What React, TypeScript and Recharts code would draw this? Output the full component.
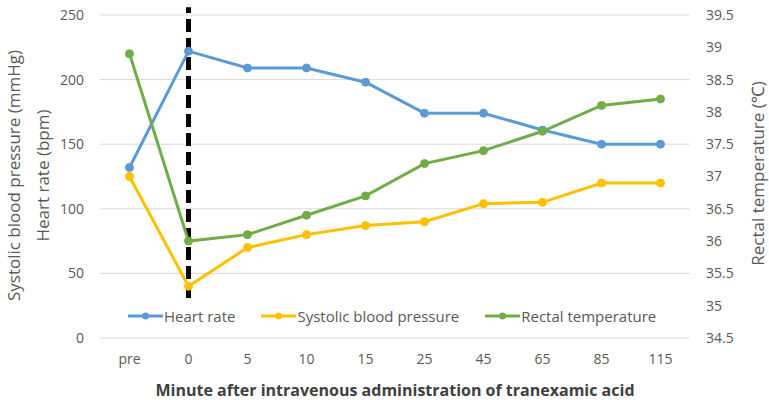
import React from 'react';
import { ComposedChart, Line, XAxis, YAxis, CartesianGrid, Legend, ReferenceLine } from 'recharts';

const categories = ['pre', '0', '5', '10', '15', '25', '45', '65', '85', '115'];
const heartRate = [132, 222, 209, 209, 198, 174, 174, 161, 150, 150];
const systolicBP = [125, 40, 70, 80, 87, 90, 104, 105, 120, 120];
const rectalTemp = [38.9, 36.0, 36.1, 36.4, 36.7, 37.2, 37.4, 37.7, 38.1, 38.2];
const leftTicks = [0, 50, 100, 150, 200, 250];
const rightTicks = [34.5, 35, 35.5, 36, 36.5, 37, 37.5, 38, 38.5, 39, 39.5];
const seriesNames = ['Heart rate', 'Systolic blood pressure', 'Rectal temperature'];

const data = categories.map((c, i) => ({
  minute: c,
  hr: heartRate[i],
  sbp: systolicBP[i],
  temp: rectalTemp[i],
}));

const FONT = '"Open Sans", "Noto Sans", sans-serif';
const TXT = '#595959';

const LeftLabel = (props: any) => {
  const vb = props.viewBox || {};
  const cy = vb.y + vb.height / 2 - 1;
  return (
    <g>
      <text x={13} y={cy} transform={`rotate(-90 13 ${cy})`} textAnchor="middle" dominantBaseline="central"
        fontFamily={FONT} fontSize={17} fill={TXT}>Systolic blood pressure (mmHg)</text>
      <text x={42} y={cy} transform={`rotate(-90 42 ${cy})`} textAnchor="middle" dominantBaseline="central"
        fontFamily={FONT} fontSize={17} fill={TXT}>Heart rate (bpm)</text>
    </g>
  );
};

const RightLabel = (props: any) => {
  const vb = props.viewBox || {};
  const cy = vb.y + vb.height / 2 - 3;
  const cx = 757;
  return (
    <text x={cx} y={cy} transform={`rotate(-90 ${cx} ${cy})`} textAnchor="middle" dominantBaseline="central"
      fontFamily={FONT} fontSize={17} fill={TXT}>Rectal temperature (℃)</text>
  );
};

const LegendContent = (props: any) => {
  const payload = [...(props.payload || [])].sort(
    (a: any, b: any) => seriesNames.indexOf(a.value) - seriesNames.indexOf(b.value)
  );
  return (
    <div style={{ display: 'flex', alignItems: 'center', fontFamily: FONT, fontSize: 15, color: TXT, whiteSpace: 'nowrap' }}>
      {payload.map((p: any, i: number) => (
        <div key={i} style={{ display: 'flex', alignItems: 'center', marginRight: 26 }}>
          <svg width={35} height={10} style={{ marginRight: 1 }}>
            <line x1={0} y1={5} x2={35} y2={5} stroke={p.color} strokeWidth={3} />
            <circle cx={17.5} cy={5} r={3.5} fill={p.color} />
          </svg>
          <span>{p.value}</span>
        </div>
      ))}
    </div>
  );
};

export default function App() {
  return (
    <div style={{ position: 'absolute', left: 0, top: 0, width: 769, height: 400, background: '#fff' }}>
      <ComposedChart width={769} height={400} data={data} margin={{ top: 15, right: 0, bottom: 0, left: 0 }}>
        <CartesianGrid yAxisId="left" vertical={false} stroke="#D9D9D9" strokeWidth={1} />
        <XAxis dataKey="minute" height={62} axisLine={false} tickLine={false} tickMargin={10}
          padding={{ left: 29.5, right: 29.5 }}
          tick={{ fontFamily: FONT, fontSize: 14, fill: TXT }}
          label={{ value: 'Minute after intravenous administration of tranexamic acid', position: 'insideBottom', offset: 4,
            style: { fontFamily: FONT, fontSize: 16, fontWeight: 'bold', fill: '#404040' } }} />
        <YAxis yAxisId="left" orientation="left" width={100} domain={[0, 250]} ticks={leftTicks}
          axisLine={false} tickLine={false} tickMargin={10} interval={0}
          tick={{ fontFamily: FONT, fontSize: 14, fill: TXT }} label={LeftLabel} />
        <YAxis yAxisId="right" orientation="right" width={79} domain={[34.5, 39.5]} ticks={rightTicks}
          axisLine={false} tickLine={false} tickMargin={10} interval={0}
          tick={{ fontFamily: FONT, fontSize: 14, fill: TXT }} label={RightLabel} />
        <ReferenceLine yAxisId="left" segment={[{ x: '0', y: 31 }, { x: '0', y: 256 }]} ifOverflow="visible"
          stroke="#000" strokeWidth={5} strokeDasharray="13 6" />
        <Line yAxisId="left" dataKey="hr" name="Heart rate" stroke="#5B9BD5" strokeWidth={3}
          dot={{ r: 4, fill: '#5B9BD5', stroke: '#5B9BD5', strokeWidth: 1 }} activeDot={false} isAnimationActive={false} />
        <Line yAxisId="left" dataKey="sbp" name="Systolic blood pressure" stroke="#FFC000" strokeWidth={3}
          dot={{ r: 4, fill: '#FFC000', stroke: '#FFC000', strokeWidth: 1 }} activeDot={false} isAnimationActive={false} />
        <Line yAxisId="right" dataKey="temp" name="Rectal temperature" stroke="#70AD47" strokeWidth={3}
          dot={{ r: 4, fill: '#70AD47', stroke: '#70AD47', strokeWidth: 1 }} activeDot={false} isAnimationActive={false} />
        <Legend layout="horizontal" verticalAlign="middle" align="center" content={LegendContent}
          wrapperStyle={{ left: 128, top: 306, width: 'auto' }} />
      </ComposedChart>
    </div>
  );
}
